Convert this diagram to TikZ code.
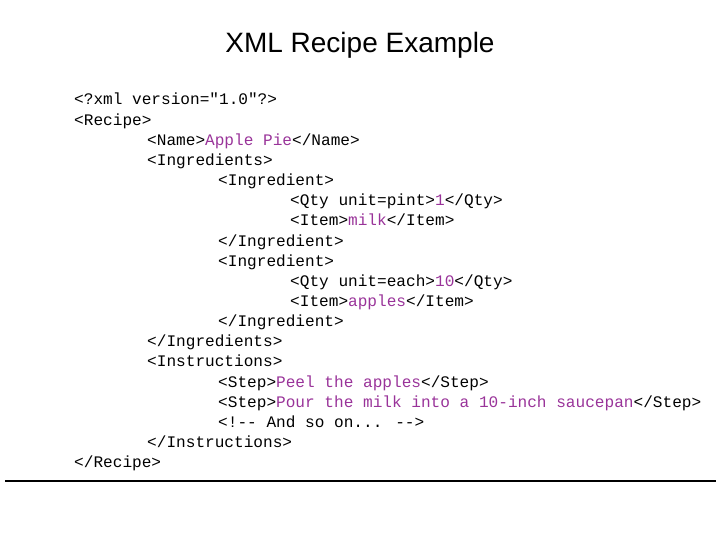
\documentclass[tikz,border=0pt]{standalone}
\usepackage{fontspec}
\setmainfont{Liberation Sans}
\newfontfamily\codefont{Liberation Mono}
\definecolor{val}{HTML}{993399}
\begin{document}
\begin{tikzpicture}[x=1pt,y=1pt,
  code/.style={anchor=base west,inner sep=0pt,font=\codefont\fontsize{16.1}{18}\selectfont},
  ttl/.style={font=\fontsize{28}{32}\selectfont}]
\useasboundingbox (0,0) rectangle (720,540);
\node[ttl] (title) at (360,495) {XML Recipe Example};
\def\V#1{\textcolor{val}{#1}}
\foreach \i/\x/\t in {
 0/74/{<?xml version="1.0"?>},
 1/74/{<Recipe>},
 2/147/{<Name>\V{Apple Pie}</Name>},
 3/147/{<Ingredients>},
 4/218/{<Ingredient>},
 5/290/{<Qty unit=pint>\V{1}</Qty>},
 6/290/{<Item>\V{milk}</Item>},
 7/218/{</Ingredient>},
 8/218/{<Ingredient>},
 9/290/{<Qty unit=each>\V{10}</Qty>},
 10/290/{<Item>\V{apples}</Item>},
 11/218/{</Ingredient>},
 12/147/{</Ingredients>},
 13/147/{<Instructions>},
 14/218/{<Step>\V{Peel the apples}</Step>},
 15/218/{<Step>\V{Pour the milk into a 10-inch saucepan}</Step>},
 16/218/{<!-- And so on... -->},
 17/147/{</Instructions>},
 18/74/{</Recipe>}}
 \node[code] (l\i) at (\x,{435-20.15*\i}) {\t};
\coordinate (ra) at (5,59);
\coordinate (rb) at (716,59);
\draw[line width=1.8pt] (ra) -- (rb);
\end{tikzpicture}
\end{document}
